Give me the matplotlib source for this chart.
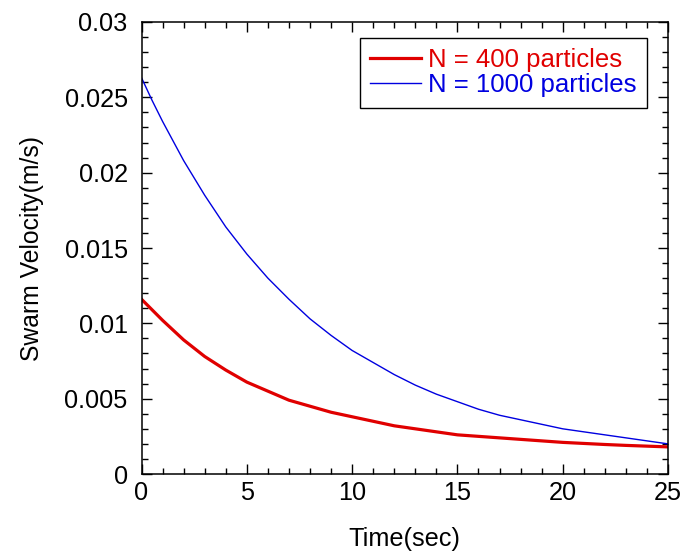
#!/usr/bin/env python3
"""Swarm velocity decay for two swarm sizes."""

import matplotlib
matplotlib.use('Agg')
import matplotlib.pyplot as plt
from matplotlib.ticker import MultipleLocator, FuncFormatter

plt.rcParams['font.family'] = ['Liberation Sans', 'DejaVu Sans']

# time (sec)
time_s = [0, 0.5, 1, 1.5, 2, 2.5, 3, 3.5, 4, 4.5, 5, 6, 7, 8, 9, 10, 11, 12,
          13, 14, 15, 16, 17, 18, 19, 20, 21, 22, 23, 24, 25]

# swarm velocity (m/s)
vel_n400 = [0.0116, 0.0109, 0.0102, 0.00955, 0.0089, 0.00835, 0.0078,
            0.00735, 0.0069, 0.0065, 0.0061, 0.0055, 0.0049, 0.0045, 0.0041,
            0.0038, 0.0035, 0.0032, 0.0030, 0.0028, 0.0026, 0.0025, 0.0024,
            0.0023, 0.0022, 0.0021, 0.00203, 0.00196, 0.0019, 0.00185, 0.0018]
vel_n1000 = [0.0263, 0.0248, 0.0234, 0.0221, 0.0208, 0.01965, 0.0185,
             0.01745, 0.0164, 0.0155, 0.0146, 0.0130, 0.0116, 0.0103, 0.0092,
             0.0082, 0.0074, 0.0066, 0.0059, 0.0053, 0.0048, 0.0043, 0.0039,
             0.0036, 0.0033, 0.0030, 0.0028, 0.0026, 0.0024, 0.0022, 0.0020]

labels = ["N = 400 particles", "N = 1000 particles"]
colors = ['#e00000', '#0000e0']

fig = plt.figure(figsize=(6.86, 5.58), dpi=100)
ax = fig.add_axes([0.2063, 0.1505, 0.7675, 0.8101])

ax.plot(time_s, vel_n400, color=colors[0], linewidth=2.3, label=labels[0])
ax.plot(time_s, vel_n1000, color=colors[1], linewidth=1.0, label=labels[1])

ax.set_xlim(0, 25)
ax.set_ylim(0, 0.03)
ax.xaxis.set_major_locator(MultipleLocator(5))
ax.xaxis.set_minor_locator(MultipleLocator(1))
ax.yaxis.set_major_locator(MultipleLocator(0.005))
ax.yaxis.set_minor_locator(MultipleLocator(0.001))
ax.yaxis.set_major_formatter(FuncFormatter(lambda v, p: f"{v:g}"))
ax.xaxis.set_major_formatter(FuncFormatter(lambda v, p: f"{v:g}"))

ax.tick_params(which='both', direction='in', top=True, right=True, width=1.0,
               colors='black')
ax.tick_params(which='major', length=7)
ax.tick_params(which='minor', length=4)
ax.tick_params(axis='y', which='major', pad=10, labelsize=18.2)
ax.tick_params(axis='x', which='major', pad=5, labelsize=18.2)
for sp in ax.spines.values():
    sp.set_linewidth(1.1)

ax.set_xlabel("Time(sec)", fontsize=18.2, labelpad=16)
ax.set_ylabel("Swarm Velocity(m/s)", fontsize=17.8, labelpad=15)

leg = ax.legend(loc='upper right', bbox_to_anchor=(0.9605, 0.965),
                fontsize=18.5, frameon=True, fancybox=False, framealpha=1,
                edgecolor='black', handlelength=2.0, handletextpad=0.28,
                labelspacing=0.05, borderpad=0.4, borderaxespad=0)
leg.get_frame().set_linewidth(1.0)
for txt, c in zip(leg.get_texts(), colors):
    txt.set_color(c)

fig.savefig("out.png", dpi=100)
plt.close(fig)
